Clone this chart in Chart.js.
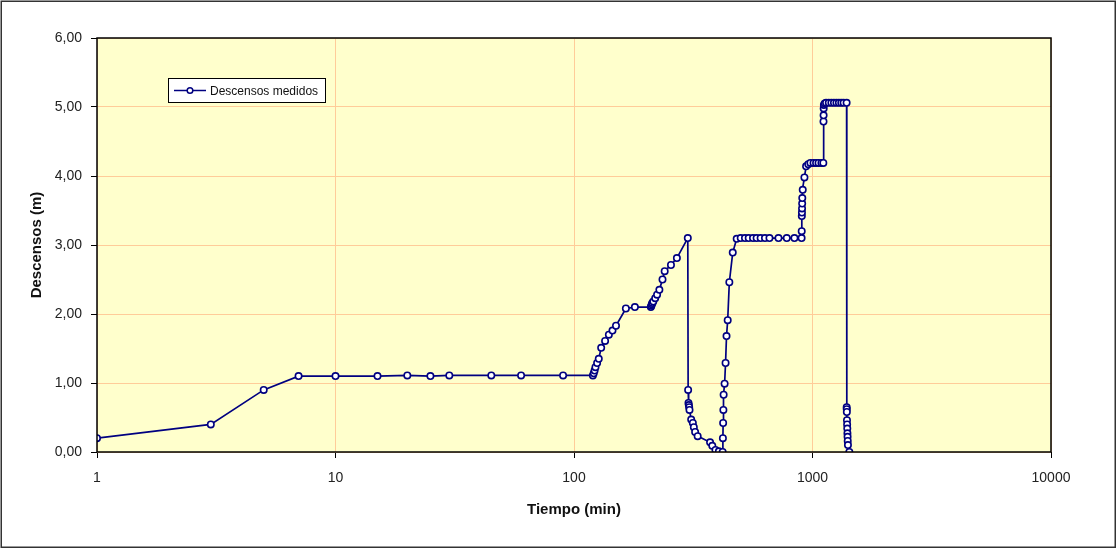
<!DOCTYPE html>
<html>
<head>
<meta charset="utf-8">
<script src="https://cdn.jsdelivr.net/npm/chart.js@4.4.1/dist/chart.umd.min.js"></script>
<style>
html,body{margin:0;padding:0;background:#fff;}
#wrap{width:1117px;height:550px;position:relative;}
</style>
</head>
<body>
<div id="wrap"><canvas id="c" width="1117" height="550"></canvas></div>
<script>
const tiempo = [1,3,5,7,10,15,20,25,30,45,60,90,
  120,121,122,123,125,127,130,135,140,145,150,165,180,
  210,211,212,213,215,219,223,228,235,240,255,270,300,
  301,302,303,304,305,310,315,318,322,330,372,380,392,405,420,
  421,422,423,424,428,432,436,441,448,463,481,
  500,521,540,563,583,606,632,660,720,780,840,900,
  901,902,903,904,905,906,910,925,940,960,
  980,1010,1035,1060,1090,1110,
  1112,1113,1114,1116,1125,1140,1170,1200,1230,1260,1290,1320,1350,1390,
  1391,1392,1393,1395,1397,1399,1401,1403,1405,1408,1427];
const descensos = [0.20,0.40,0.90,1.10,1.10,1.10,1.11,1.10,1.11,1.11,1.11,1.11,
  1.11,1.14,1.18,1.23,1.29,1.35,1.51,1.61,1.70,1.76,1.83,2.08,2.10,
  2.10,2.12,2.14,2.16,2.18,2.23,2.28,2.35,2.50,2.62,2.71,2.81,3.10,
  0.90,0.71,0.68,0.65,0.61,0.47,0.42,0.36,0.29,0.23,0.14,0.09,0.03,0.01,0.00,
  0.20,0.42,0.61,0.83,0.99,1.29,1.68,1.91,2.46,2.89,3.09,
  3.10,3.10,3.10,3.10,3.10,3.10,3.10,3.10,3.10,3.10,3.10,3.10,
  3.20,3.42,3.47,3.53,3.60,3.68,3.80,3.98,4.14,4.17,
  4.19,4.19,4.19,4.19,4.19,4.19,
  4.79,4.88,4.98,5.03,5.05,5.06,5.06,5.06,5.06,5.06,5.06,5.06,5.06,5.06,
  0.65,0.62,0.58,0.46,0.40,0.34,0.27,0.22,0.16,0.10,0.00];
const xTicks = [1,10,100,1000,10000];
const serieNombre = 'Descensos medidos';
const tituloX = 'Tiempo (min)';
const tituloY = 'Descensos (m)';

const FONT = '"Liberation Sans", Arial, sans-serif';
Chart.defaults.font.family = FONT;
Chart.defaults.color = '#222';

const NAVY = '#000080';
const GRID = '#FFCC99';

const bgPlugin = {
  id: 'bg',
  beforeDraw(chart) {
    const {ctx, chartArea: a} = chart;
    ctx.save();
    ctx.fillStyle = '#fff';
    ctx.fillRect(0, 0, chart.width, chart.height);
    ctx.fillStyle = '#FFFFCC';
    ctx.fillRect(a.left, a.top, a.right - a.left, a.bottom - a.top);
    ctx.strokeStyle = '#333';
    ctx.lineWidth = 1.5;
    ctx.strokeRect(1.25, 1.25, 1114, 546);
    ctx.restore();
  },
  afterDraw(chart) {
    const {ctx, chartArea: a} = chart;
    ctx.save();
    ctx.strokeStyle = '#000';
    ctx.lineWidth = 1.5;
    ctx.strokeRect(a.left, a.top, a.right - a.left, a.bottom - a.top);
    // legend box
    const lx = 168.5, ly = 78.5, lw = 157, lh = 24;
    ctx.fillStyle = '#fff';
    ctx.fillRect(lx, ly, lw, lh);
    ctx.strokeStyle = '#000';
    ctx.lineWidth = 1;
    ctx.strokeRect(lx, ly, lw, lh);
    const cy = ly + lh / 2;
    ctx.strokeStyle = NAVY;
    ctx.lineWidth = 1.5;
    ctx.beginPath(); ctx.moveTo(174, cy); ctx.lineTo(206, cy); ctx.stroke();
    ctx.fillStyle = '#fff';
    ctx.beginPath(); ctx.arc(190, cy, 2.8, 0, Math.PI * 2); ctx.fill(); ctx.stroke();
    ctx.fillStyle = '#111';
    ctx.font = '12px ' + FONT;
    ctx.textBaseline = 'middle';
    ctx.textAlign = 'left';
    ctx.fillText(chart.data.datasets[0].label, 210, cy + 1);
    ctx.restore();
  }
};

new Chart(document.getElementById('c'), {
  type: 'line',
  data: {
    datasets: [{
      label: serieNombre,
      data: tiempo.map((t, i) => ({x: t, y: descensos[i]})),
      borderColor: NAVY,
      borderWidth: 1.7,
      backgroundColor: '#fff',
      pointBackgroundColor: '#fff',
      pointBorderColor: NAVY,
      pointBorderWidth: 1.6,
      pointRadius: 3.2,
      tension: 0,
      fill: false
    }]
  },
  options: {
    responsive: false,
    animation: false,
    devicePixelRatio: 1,
    layout: {padding: {left: 0, top: 38, right: 66, bottom: 0}},
    plugins: {legend: {display: false}, tooltip: {enabled: false}},
    scales: {
      x: {
        type: 'logarithmic',
        min: 1, max: 10000,
        afterBuildTicks: (axis) => { axis.ticks = xTicks.map(v => ({value: v})); },
        afterFit: (s) => { s.height = 98; },
        grid: {color: GRID, lineWidth: 1, tickColor: '#000', tickLength: 6},
        border: {display: false},
        ticks: {
          font: {size: 14},
          color: '#222',
          padding: 12,
          maxRotation: 0,
          autoSkip: false,
          callback: (v) => String(v)
        },
        title: {display: true, text: tituloX, font: {size: 15, weight: 'bold'}, color: '#111', padding: {top: 0, bottom: 31}}
      },
      y: {
        min: 0, max: 6,
        afterFit: (s) => { s.width = 97; },
        grid: {color: GRID, lineWidth: 1, tickColor: '#000', tickLength: 6},
        border: {display: false},
        ticks: {
          stepSize: 1,
          font: {size: 14},
          color: '#222',
          padding: 9,
          callback: (v) => v.toFixed(2).replace('.', ',')
        },
        title: {display: true, text: tituloY, font: {size: 15, weight: 'bold'}, color: '#111', padding: {top: 28, bottom: 0}}
      }
    }
  },
  plugins: [bgPlugin]
});
</script>
</body>
</html>
